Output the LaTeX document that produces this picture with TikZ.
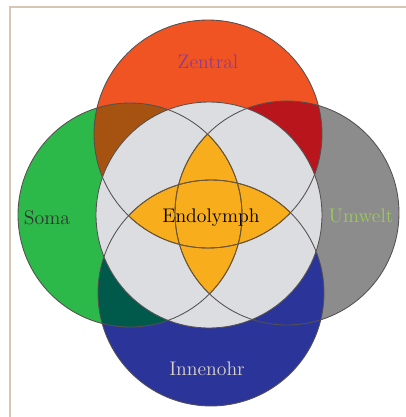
\documentclass[tikz,border=0pt]{standalone}
\usepackage{tikz}
\usetikzlibrary{positioning}
\definecolor{zentralred}{HTML}{F05423}
\definecolor{somagreen}{HTML}{2DB84A}
\definecolor{umweltgray}{HTML}{8C8C8C}
\definecolor{innenblue}{HTML}{2B3599}
\definecolor{coregray}{HTML}{DCDDE0}
\definecolor{endoorange}{HTML}{F8AE1C}
\definecolor{zsbrown}{HTML}{A65312}
\definecolor{zudarkred}{HTML}{B8151C}
\definecolor{siteal}{HTML}{005A4B}
\definecolor{edgegray}{HTML}{555050}
\definecolor{lensbrown}{HTML}{6E5530}
\definecolor{framebeige}{HTML}{D6C6B4}
\definecolor{zentraltext}{HTML}{8E3C8E}
\definecolor{somatext}{HTML}{333333}
\definecolor{umwelttext}{HTML}{9CC85C}
\definecolor{innentext}{HTML}{D9D2C8}

\begin{document}
\begin{tikzpicture}[x=0.25mm, y=-0.25mm]

  \tikzset{
    ring/.style={draw=edgegray, line width=0.6pt},
    lensedge/.style={draw=lensbrown, line width=0.6pt},
    vennlabel/.style={
        font=\fontsize{14}{16}\selectfont,
        inner sep=0pt
      }
  }
  \useasboundingbox (0,0) rectangle (406,417);
  \fill[white] (0,0) rectangle (406,417);
  \draw[framebeige, line width=1.4pt] (10,417) -- (10,7) -- (406,7);

  \coordinate (zc) at (208,134);
  \coordinate (sc) at (130,215);
  \coordinate (uc) at (287,213);
  \coordinate (ic) at (211,293);
  \coordinate (ec) at (209,215);

  % outer circles
  \fill[zentralred] (zc) circle (114);
  \fill[somagreen] (sc) circle (112);
  \fill[umweltgray] (uc) circle (112);
  \fill[innenblue] (ic) circle (113);

  \begin{scope}
    \clip (zc) circle (114);
    \fill[zsbrown] (sc) circle (112);
    \fill[zudarkred] (uc) circle (112);
  \end{scope}
  \begin{scope}
    \clip (sc) circle (112);
    \fill[siteal] (ic) circle (113);
  \end{scope}

  \draw[ring] (zc) circle (114);
  \draw[ring] (sc) circle (112);
  \draw[ring] (uc) circle (112);
  \draw[ring] (ic) circle (113);

  % core
  \fill[coregray] (ec) circle (113);
  \begin{scope}
    \clip (ec) circle (113);
    \begin{scope}
      \clip (sc) circle (112);
      \fill[endoorange] (uc) circle (112);
    \end{scope}
    \begin{scope}
      \clip (zc) circle (114);
      \fill[endoorange] (ic) circle (113);
    \end{scope}
    \draw[ring] (zc) circle (114);
    \draw[ring] (sc) circle (112);
    \draw[ring] (uc) circle (112);
    \draw[ring] (ic) circle (113);
    \begin{scope}
      \clip (sc) circle (112);
      \draw[lensedge] (uc) circle (112);
    \end{scope}
    \begin{scope}
      \clip (uc) circle (112);
      \draw[lensedge] (sc) circle (112);
    \end{scope}
    \begin{scope}
      \clip (zc) circle (114);
      \draw[lensedge] (ic) circle (113);
    \end{scope}
    \begin{scope}
      \clip (ic) circle (113);
      \draw[lensedge] (zc) circle (114);
    \end{scope}
  \end{scope}
  \draw[ring] (ec) circle (113);

  \node[vennlabel, text=zentraltext] (zentral) at (208,62) {Zentral};
  \node[vennlabel, text=somatext] (soma) at (47,218) {Soma};
  \node[vennlabel, text=umwelttext] (umwelt) at (361,216) {Umwelt};
  \node[vennlabel, text=innentext] (innenohr) at (207,369) {Innenohr};
  \node[vennlabel, text=black] (endolymph) at (211,218) {Endolymph};

\end{tikzpicture}
\end{document}
